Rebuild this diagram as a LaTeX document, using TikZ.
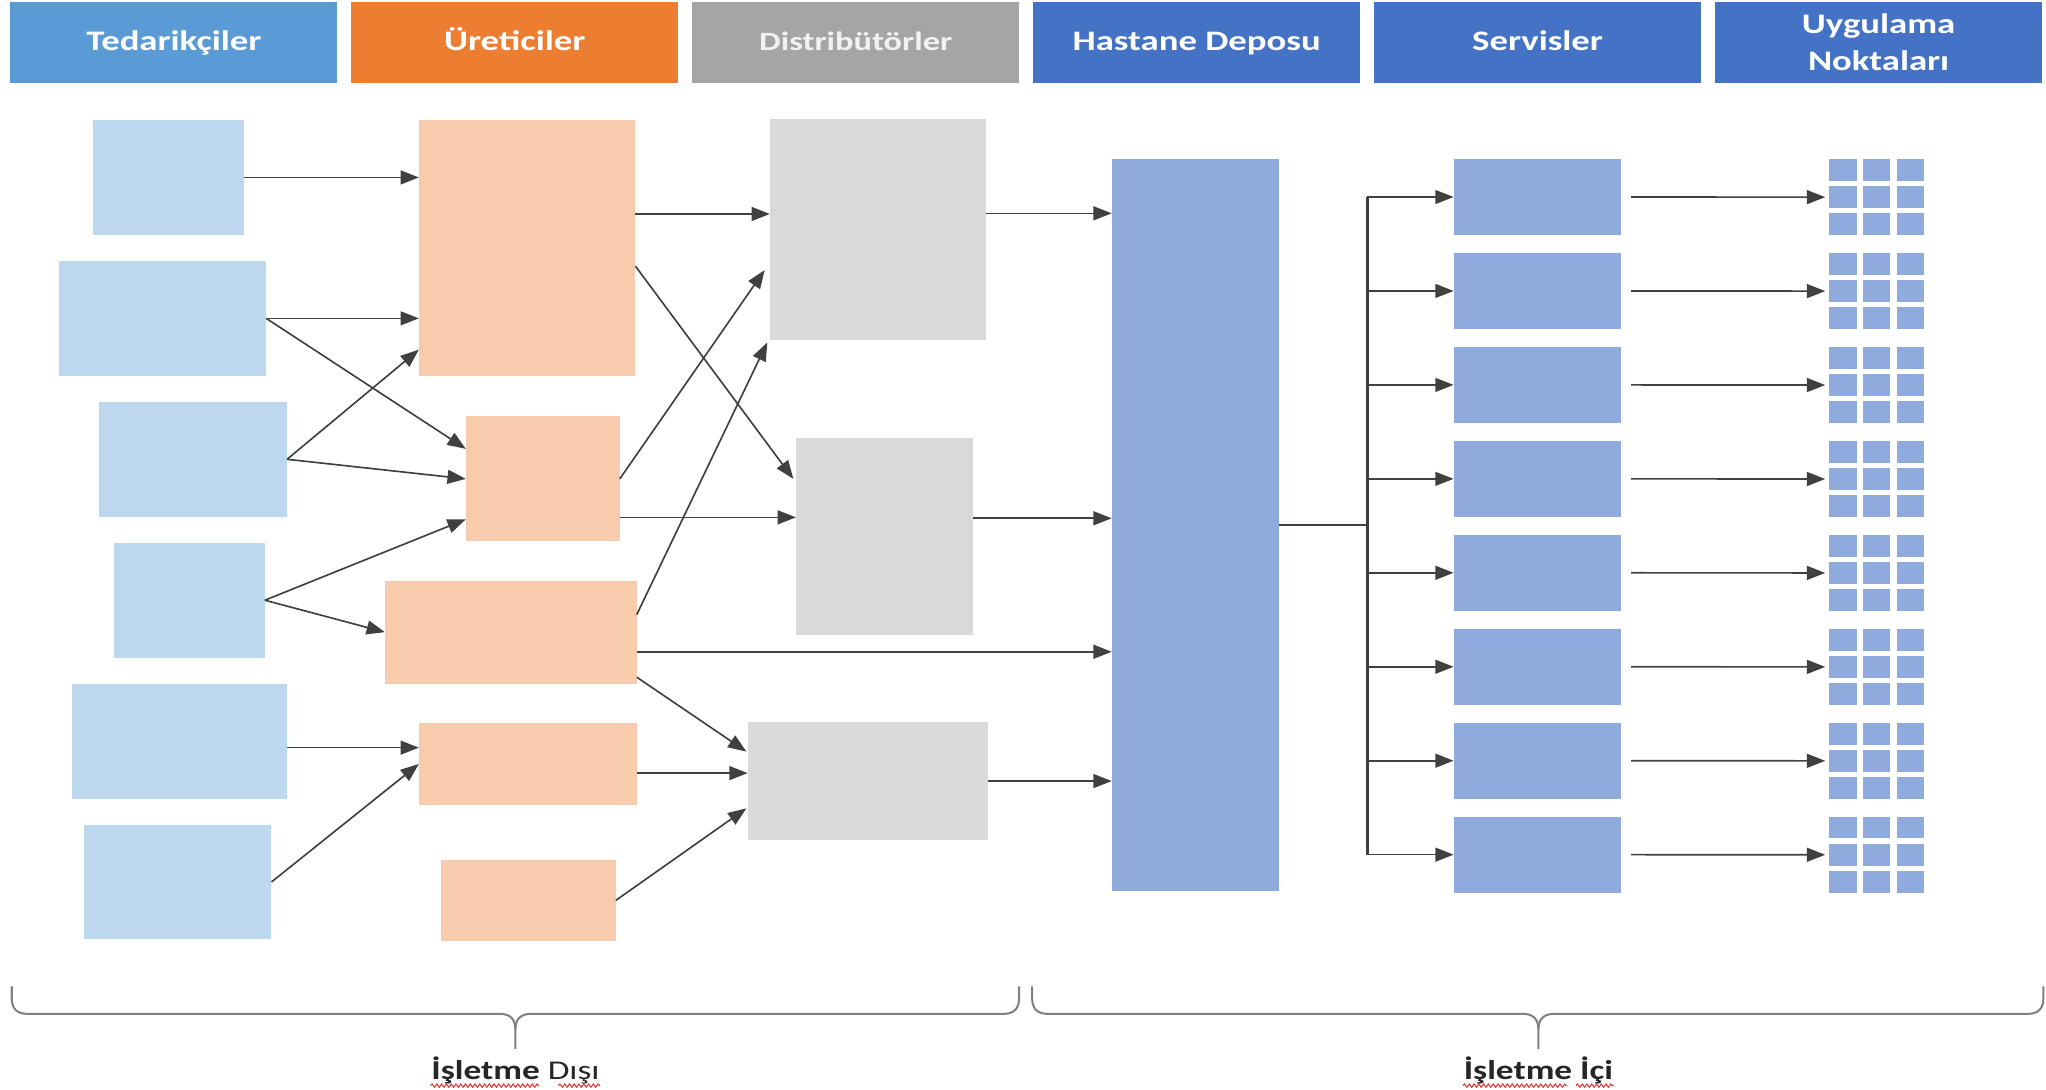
\documentclass[tikz,border=0pt]{standalone}
\usepackage{fontspec}
\setmainfont{Carlito}
\newfontfamily\widefont[FakeStretch=1.3]{Carlito}
\usetikzlibrary{arrows.meta,calc,fit,decorations.pathmorphing}

\definecolor{hdrblue}{HTML}{5B9BD5}
\definecolor{hdrorange}{HTML}{ED7D31}
\definecolor{hdrgrey}{HTML}{A5A5A5}
\definecolor{hdrdark}{HTML}{4472C4}
\definecolor{supfill}{HTML}{BDD7EE}
\definecolor{manfill}{HTML}{F8CBAD}
\definecolor{disfill}{HTML}{D9D9D9}
\definecolor{hosfill}{HTML}{8FAADC}
\definecolor{linegrey}{HTML}{404040}
\definecolor{bracegrey}{HTML}{7F7F7F}
\definecolor{labeltext}{HTML}{262626}
\definecolor{spellred}{HTML}{E03A3A}

\begin{document}
\begin{tikzpicture}[x=0.0125cm, y=-0.0125cm,
  box/.style={inner sep=0pt, outer sep=0pt},
  supbox/.style={box, fill=supfill},
  manbox/.style={box, fill=manfill},
  disbox/.style={box, fill=disfill},
  hosbox/.style={box, fill=hosfill},
  hdr/.style={box, minimum width=3.131cm, minimum height=0.776cm, text=white,
    font=\widefont\bfseries\fontsize{7.7}{10.3}\selectfont, align=center},
  hdrone/.style={hdr, text height=5.6pt, text depth=1.2pt},
  lbl/.style={inner sep=0pt, text=labeltext, font=\widefont\fontsize{7.4}{9}\selectfont},
  flow/.style={draw=linegrey, line width=0.45pt, -{Triangle[length=5pt,width=3.8pt]}},
  trunk/.style={draw=linegrey, line width=0.6pt},
  brace/.style={draw=bracegrey, line width=0.55pt},
  spell/.style={draw=spellred, line width=0.3pt, decorate,
    decoration={snake, segment length=1.3pt, amplitude=0.45pt}}
]
\useasboundingbox (0,0) rectangle (1568,835);

% column headers
\node[hdrone, fill=hdrblue]   (h1) at (133.25,32.35) {Tedarikçiler};
\node[hdrone, fill=hdrorange] (h2) at (394.5,32.35)  {Üreticiler};
\node[hdrone, fill=hdrgrey, text=white!95!black,
  font=\widefont\bfseries\fontsize{7.2}{9.6}\selectfont] (h3) at (655.8,32.35) {Distribütörler};
\node[hdrone, fill=hdrdark]   (h4) at (917.1,32.35)  {Hastane Deposu};
\node[hdrone, fill=hdrdark]   (h5) at (1178.4,32.35) {Servisler};
\node[hdr, fill=hdrdark]      (h6) at (1439.7,32.35) {Uygulama\\Noktaları};

% suppliers
\node[supbox, fit={(71,92) (187,180)}]  (s1) {};
\node[supbox, fit={(45,200) (204,288)}] (s2) {};
\node[supbox, fit={(76,308) (220,396)}] (s3) {};
\node[supbox, fit={(87,416) (203,504)}] (s4) {};
\node[supbox, fit={(55,524) (220,612)}] (s5) {};
\node[supbox, fit={(64,632) (208,720)}] (s6) {};

% manufacturers
\node[manbox, fit={(321,92) (487,288)}]  (m1) {};
\node[manbox, fit={(357,319) (475,415)}] (m2) {};
\node[manbox, fit={(295,445) (488,524)}] (m3) {};
\node[manbox, fit={(321,554) (488,617)}] (m4) {};
\node[manbox, fit={(338,659) (472,721)}] (m5) {};

% distributors
\node[disbox, fit={(590,91) (756,260.5)}]    (d1) {};
\node[disbox, fit={(610,336) (746,486.6)}]   (d2) {};
\node[disbox, fit={(573,553.5) (757,643.7)}] (d3) {};

% hospital depot
\node[hosbox, fit={(852,122) (980,683)}] (dep) {};

% services and points of use
\foreach \i in {1,...,8}{
  \pgfmathsetmacro{\top}{122+72*(\i-1)}
  \node[hosbox, fit={(1114,\top) (1242,\top+58)}] (sv\i) {};
  \node[box, fit={(1401.8,\top) (1474.6,\top+58.2)}] (g\i) {};
  \foreach \c in {0,1,2}{
    \foreach \r in {0,1,2}{
      \fill[hosfill] (1401.8+25.9*\c, \top+20.8*\r) rectangle ++(21,16.6);
    }
  }
}

% suppliers -> manufacturers
\draw[flow] (s1.east) -- (s1.east -| m1.west);
\draw[flow] (s2.east) -- (s2.east -| m1.west);
\draw[flow] (s2.east) -- ($(m2.north west)+(0,25)$);
\draw[flow] (s3.east) -- ($(m1.south west)+(0,-20)$);
\draw[flow] (s3.east) -- (m2.west);
\draw[flow] (s4.east) -- ($(m2.south west)+(0,-17)$);
\draw[flow] (s4.east) -- (m3.west);
\coordinate (s5o) at ($(s5.east)+(0,5)$);
\draw[flow] (s5o) -- (s5o -| m4.west);
\draw[flow] (s6.east) -- (m4.west);

% manufacturers -> distributors / depot
\coordinate (m1a) at ($(m1.north east)+(0,72)$);
\draw[flow] (m1a) -- (m1a -| d1.west);
\draw[flow] ($(m1.north east)+(0,112)$) -- ($(d2.north west)+(-2,31)$);
\draw[flow] (m2.east) -- ($(d1.north west)+(-4,116)$);
\coordinate (m2b) at ($(m2.south east)+(0,-18.5)$);
\draw[flow] (m2b) -- (m2b -| d2.west);
\draw[flow] ($(m3.north east)+(0,26)$) -- ($(d1.south west)+(-2,2)$);
\coordinate (m3b) at ($(m3.north east)+(0,54.5)$);
\draw[flow] (m3b) -- (m3b -| dep.west);
\draw[flow] ($(m3.south east)+(0,-5)$) -- ($(d3.north west)+(-1,22.5)$);
\coordinate (m4a) at ($(m4.east)+(0,7)$);
\draw[flow] (m4a) -- (m4a -| d3.west);
\draw[flow] (m5.east) -- ($(d3.north west)+(-1,66)$);

% distributors -> depot
\coordinate (d1a) at ($(d1.north east)+(0,72.5)$);
\draw[flow] (d1a) -- (d1a -| dep.west);
\coordinate (d2a) at ($(d2.north east)+(0,61.2)$);
\draw[flow] (d2a) -- (d2a -| dep.west);
\draw[flow] (d3.east) -- (d3.east -| dep.west);

% depot -> services
\coordinate (tr) at ($(dep.east)+(68,0)$);
\draw[trunk] (dep.east) -- (tr);
\draw[trunk] (tr |- sv1.west) -- (tr |- sv8.west);
\foreach \i in {1,...,8}{
  \draw[flow] (tr |- sv\i.west) -- (sv\i.west);
  \draw[flow] ($(sv\i.east)+(8,0)$) -- ($(g\i.west)+(-3,0)$);
}

% braces
\draw[brace] (9,756) -- (9,765) .. controls (9,773) and (13,777) .. (21,777)
  -- (383,777) .. controls (391,777) and (395,781) .. (395,789) -- (395,804);
\draw[brace] (781,756) -- (781,765) .. controls (781,773) and (777,777) .. (769,777)
  -- (407,777) .. controls (399,777) and (395,781) .. (395,789);
\draw[brace] (791,756) -- (791,765) .. controls (791,773) and (795,777) .. (803,777)
  -- (1167,777) .. controls (1175,777) and (1179,781) .. (1179,789) -- (1179,804);
\draw[brace] (1566,756) -- (1566,765) .. controls (1566,773) and (1562,777) .. (1554,777)
  -- (1191,777) .. controls (1183,777) and (1179,781) .. (1179,789);

% brace labels
\node[lbl, anchor=base] (outside) at (395,827) {\textbf{İşletme} Dışı};
\node[lbl, anchor=base] (inside) at (1179,827) {\textbf{İşletme İçi}};
\draw[spell] ($(outside.base west)+(0,5)$) -- ($(outside.base west)+(83,5)$);
\draw[spell] ($(outside.base east)+(-32,5)$) -- ($(outside.base east)+(0,5)$);
\draw[spell] ($(inside.base west)+(0,5)$) -- ($(inside.base west)+(80,5)$);
\draw[spell] ($(inside.base east)+(-29,5)$) -- ($(inside.base east)+(0,5)$);
\end{tikzpicture}
\end{document}
